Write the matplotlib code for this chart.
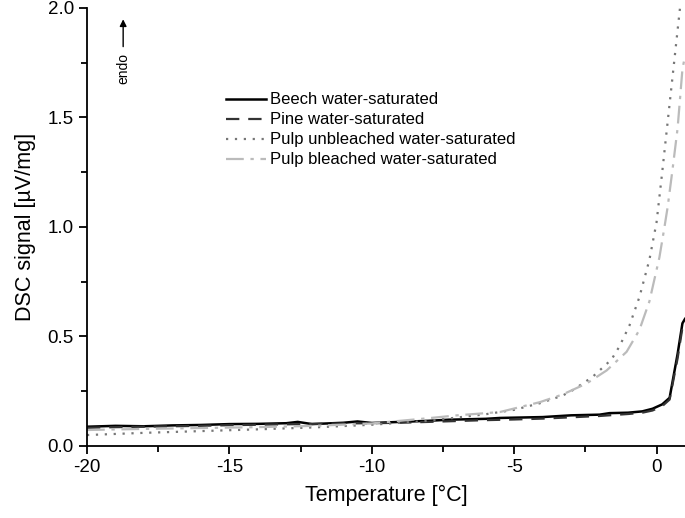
import matplotlib.pyplot as plt
from matplotlib.ticker import MultipleLocator

plt.rcParams['font.family'] = ['Liberation Sans', 'DejaVu Sans']

# temperatures [°C] and DSC signals [µV/mg]
beech_t = [-20, -19, -18, -17, -16, -15, -14, -13, -12.6, -12.1, -11, -10.5, -10, -9, -8, -7.3, -6, -5.5, -4, -3, -2, -1.65, -1, -0.5, -0.14, 0.2, 0.46, 0.74, 0.91, 1.0]
beech_y = [0.088, 0.092, 0.090, 0.094, 0.096, 0.100, 0.101, 0.104, 0.110, 0.100, 0.106, 0.112, 0.105, 0.110, 0.115, 0.120, 0.124, 0.128, 0.132, 0.140, 0.143, 0.150, 0.152, 0.158, 0.170, 0.190, 0.220, 0.420, 0.560, 0.580]
pine_t = [-20, -19, -18, -17, -16, -15, -14, -13, -12, -11, -10, -9, -8, -7, -6, -5, -4, -3, -2, -1, -0.5, -0.14, 0.2, 0.46, 0.74, 0.91, 1.0]
pine_y = [0.083, 0.086, 0.088, 0.090, 0.092, 0.095, 0.097, 0.099, 0.101, 0.103, 0.104, 0.106, 0.110, 0.114, 0.118, 0.121, 0.125, 0.131, 0.137, 0.146, 0.152, 0.162, 0.182, 0.212, 0.400, 0.540, 0.560]
unbl_t = [-20, -18, -16, -14, -12, -10, -8, -7, -6, -5, -4.1, -3.3, -2.94, -2.25, -1.58, -1.3, -0.95, -0.6, -0.25, 0, 0.2, 0.4, 0.6, 0.8, 0.85]
unbl_y = [0.050, 0.060, 0.068, 0.076, 0.085, 0.097, 0.115, 0.130, 0.145, 0.165, 0.195, 0.230, 0.255, 0.315, 0.395, 0.455, 0.550, 0.680, 0.850, 1.020, 1.250, 1.490, 1.730, 1.970, 2.030]
bl_t = [-20, -18, -16, -14, -12, -10, -8, -7, -5.5, -4.1, -3.3, -2.46, -1.75, -1.05, -0.6, -0.25, 0.1, 0.28, 0.39, 0.56, 0.74, 0.91, 1.0]
bl_y = [0.073, 0.078, 0.082, 0.086, 0.092, 0.103, 0.127, 0.140, 0.155, 0.200, 0.235, 0.285, 0.345, 0.430, 0.530, 0.660, 0.860, 1.000, 1.090, 1.260, 1.450, 1.720, 1.780]

fig = plt.figure(figsize=(6.85, 5.18), dpi=100)
ax = fig.add_axes([0.127, 0.139, 0.873, 0.846])

ax.plot(beech_t, beech_y, color='black', lw=1.8, label='Beech water-saturated')
ax.plot(pine_t, pine_y, color='#333333', lw=1.6, ls=(0, (6, 4)), label='Pine water-saturated')
ax.plot(unbl_t, unbl_y, color='#777777', lw=1.6, ls=(0, (1, 3)), label='Pulp unbleached water-saturated')
ax.plot(bl_t, bl_y, color='#bbbbbb', lw=1.6, ls=(0, (8, 3, 1.5, 3)), label='Pulp bleached water-saturated')

ax.set_xlim(-20, 1)
ax.set_ylim(0, 2.0)
ax.set_xticks([-20, -15, -10, -5, 0])
ax.xaxis.set_minor_locator(MultipleLocator(2.5))
ax.yaxis.set_major_locator(MultipleLocator(0.5))
ax.yaxis.set_minor_locator(MultipleLocator(0.25))
ax.xaxis.set_major_formatter(plt.FuncFormatter(lambda v, p: f'{v:.0f}'))
ax.yaxis.set_major_formatter(plt.FuncFormatter(lambda v, p: f'{v:.1f}'))
ax.tick_params(which='major', direction='out', length=6, width=1.3, labelsize=13.5)
ax.tick_params(which='minor', direction='out', length=4, width=1.3)
for s in ['top', 'right']:
    ax.spines[s].set_visible(False)
for s in ['left', 'bottom']:
    ax.spines[s].set_linewidth(1.3)

ax.set_xlabel('Temperature [°C]', fontsize=15.5, labelpad=6)
ax.set_ylabel('DSC signal [µV/mg]', fontsize=15.5, labelpad=8)

ax.legend(loc='upper left', bbox_to_anchor=(0.219, 0.826), frameon=False, fontsize=12,
          handlelength=2.4, handletextpad=0.25, labelspacing=0.3, borderpad=0)

ax.annotate('', xy=(-18.73, 1.96), xytext=(-18.73, 1.81),
            arrowprops=dict(arrowstyle='-|>', color='black', lw=1.0, mutation_scale=10))
ax.text(-18.73, 1.795, 'endo', rotation=90, ha='center', va='top', fontsize=10)

fig.savefig('out.png', dpi=100)
